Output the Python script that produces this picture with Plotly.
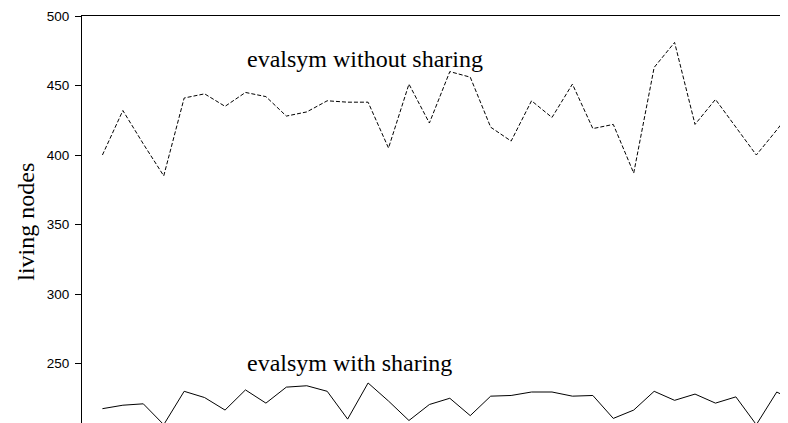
import plotly.graph_objects as go

runs = list(range(1, 36))
without_sharing = [400, 432, 408, 385, 441, 444, 435, 445, 442, 428, 431, 439, 438, 438, 405,
                   451, 423, 460, 456, 420, 410, 439, 427, 451, 419, 422, 387, 463, 481, 422,
                   440, 420, 400, 418, 437]
with_sharing = [217.5, 220, 221, 206, 230, 225.5, 216.5, 231, 221.5, 233, 234, 230, 210, 236, 223,
                209, 220.5, 225, 212.5, 226.5, 227, 229.5, 229.5, 226.5, 227, 210.5, 216.5, 230,
                223.5, 228, 221.5, 226, 206, 229.5, 222]
y_ticks = [250, 300, 350, 400, 450, 500]
label_without = "evalsym without sharing"
label_with = "evalsym with sharing"
y_title = "living nodes"

fig = go.Figure()
fig.add_trace(go.Scatter(x=runs, y=without_sharing, mode="lines",
                         line=dict(color="black", width=1, dash="4px,2px"),
                         showlegend=False, hoverinfo="skip"))
fig.add_trace(go.Scatter(x=runs, y=with_sharing, mode="lines",
                         line=dict(color="black", width=1),
                         showlegend=False, hoverinfo="skip"))

serif = "Liberation Serif, Times New Roman, serif"
fig.add_annotation(x=8, y=469.4, xref="x", yref="y", text=label_without, showarrow=False,
                   xanchor="left", yanchor="middle", font=dict(family=serif, size=24, color="black"))
fig.add_annotation(x=8, y=250.4, xref="x", yref="y", text=label_with, showarrow=False,
                   xanchor="left", yanchor="middle", font=dict(family=serif, size=24, color="black"))
fig.add_annotation(x=0, y=352, xref="paper", yref="y", xshift=-56, text=y_title, showarrow=False,
                   textangle=-90, xanchor="center", yanchor="middle",
                   font=dict(family=serif, size=24, color="black"))

# the page body has an 8px default margin, so the figure is offset by (8, 8)
fig.update_layout(
    width=780, height=415,
    margin=dict(l=74, r=0, t=8, b=0, pad=0, autoexpand=False),
    paper_bgcolor="white", plot_bgcolor="white",
    xaxis=dict(range=[0, 34.55], side="top", showline=True, linecolor="black", linewidth=1,
               showgrid=False, zeroline=False, showticklabels=False, ticks="", automargin=False),
    yaxis=dict(range=[207.2, 500], tickvals=y_ticks, ticks="outside", ticklen=6, tickwidth=1,
               tickcolor="black", showline=True, linecolor="black", linewidth=1,
               showgrid=False, zeroline=False, ticklabelstandoff=3, automargin=False,
               tickfont=dict(family="Liberation Sans, Arial, sans-serif", size=13.5, color="black")),
)
fig.write_html("out.html")
